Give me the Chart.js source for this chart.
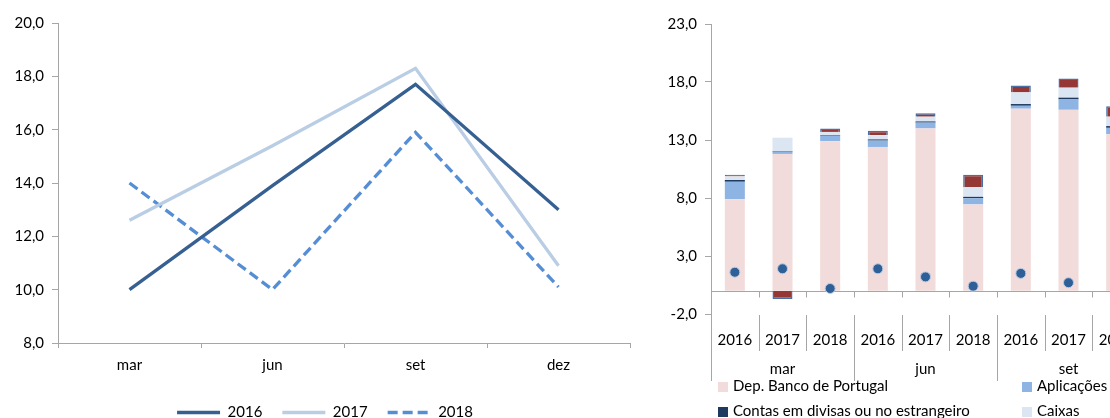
<!DOCTYPE html>
<html>
<head>
<meta charset="utf-8">
<script src="https://cdn.jsdelivr.net/npm/chart.js@4.4.1/dist/chart.umd.min.js"></script>
<style>
html,body{margin:0;padding:0;background:#fff;width:1110px;height:418px;overflow:hidden;position:relative;}
#esq{position:absolute;left:0;top:0;width:652px;height:427px;}
#dir{position:absolute;left:640px;top:0;width:680px;height:418px;}
#legenda{position:absolute;left:718px;top:376px;display:grid;grid-template-columns:304px 304px 304px;grid-auto-rows:25px;font:15px Lato;color:#000;white-space:nowrap;}
#legenda span.cx{display:inline-block;width:10px;height:10px;margin-right:5px;vertical-align:-1px;}
</style>
</head>
<body>
<div id="esq"><canvas id="grafEsq"></canvas></div>
<div id="dir"><canvas id="grafDir"></canvas></div>
<div id="legenda"></div>
<script>
const trimestres=['mar','jun','set','dez'];
const anos=['2016','2017','2018'];

// linhas (esquerda)
const serie2016=[10.0,13.9,17.7,13.0];
const serie2017=[12.6,15.4,18.3,10.9];
const serie2018=[14.0,10.0,15.9,10.1];
const ticksEsq=[8,10,12,14,16,18,20];

// barras empilhadas (direita), mar16, mar17, mar18, jun16 ... dez18
const depBanco=[7.9,11.8,12.9,12.4,14.0,7.45,15.7,15.6,13.5,11.5,9.4,8.5];
const aplicacoes=[1.5,0.2,0.45,0.55,0.5,0.53,0.25,0.9,0.55,0.5,0.5,0.5];
const contasDivisas=[0.15,0.05,0.05,0.1,0.1,0.12,0.15,0.15,0.15,0.1,0.1,0.1];
const caixas=[0.3,1.15,0.3,0.35,0.4,0.85,1.0,0.85,0.8,0.6,0.6,0.7];
const outros=[0.15,-0.7,0.3,0.4,0.3,1.05,0.6,0.8,0.9,0.3,0.3,0.3];
const pontos=[1.6,1.9,0.2,1.9,1.2,0.4,1.5,0.7,1.0,1.0,0.8,0.5];
const ticksDir=[-2,3,8,13,18,23];

const fonte={family:'Lato',size:15};
const cinza='#a6a6a6';
const virgula=v=>Number(v).toFixed(1).replace('.',',');

// a legenda do original fica um pouco à esquerda do centro
const moverLegenda={
    id:'moverLegenda',
    afterLayout(chart){
        const l=chart.legend;
        l.left+=10;l.right+=10;
        l.top+=3;l.bottom+=3;
    }
};

new Chart(document.getElementById('grafEsq'),{
    type:'line',
    data:{
        labels:trimestres,
        datasets:[
            {label:'2016',data:serie2016,borderColor:'#376092',backgroundColor:'#376092',borderWidth:3.3,pointRadius:0},
            {label:'2017',data:serie2017,borderColor:'#b9cde5',backgroundColor:'#b9cde5',borderWidth:3.3,pointRadius:0},
            {label:'2018',data:serie2018,borderColor:'#558ed5',backgroundColor:'#558ed5',borderWidth:3.3,borderDash:[10,5],pointRadius:0}
        ]
    },
    options:{
        responsive:true,
        maintainAspectRatio:false,
        animation:false,
        layout:{padding:{left:0,top:23,right:22,bottom:0}},
        plugins:{
            tooltip:{enabled:false},
            legend:{
                position:'bottom',
                labels:{
                    usePointStyle:true,pointStyle:'line',pointStyleWidth:43,padding:20,font:fonte,color:'#000',
                    // com usePointStyle o tracejado da linha perde-se, repor aqui
                    generateLabels:chart=>Chart.defaults.plugins.legend.labels.generateLabels(chart).map(it=>{
                        const ds=chart.data.datasets[it.datasetIndex];
                        return {...it,lineDash:ds.borderDash||[],lineWidth:ds.borderWidth};
                    })
                }
            }
        },
        scales:{
            x:{
                offset:true,
                grid:{offset:true,drawOnChartArea:false,tickLength:5,color:cinza},
                border:{color:cinza},
                ticks:{font:fonte,color:'#000',padding:8}
            },
            y:{
                min:8,max:20,
                afterFit:s=>{s.width=58;},
                afterBuildTicks:s=>{s.ticks=ticksEsq.map(v=>({value:v}));},
                grid:{drawOnChartArea:false,tickLength:6,color:cinza},
                border:{color:cinza},
                ticks:{font:fonte,color:'#000',padding:8,callback:virgula}
            }
        }
    },
    plugins:[moverLegenda]
});

const rotulos=[];
trimestres.forEach(t=>anos.forEach(a=>rotulos.push([a,t])));

const eixoCategorias={
    id:'eixoCategorias',
    beforeDatasetsDraw(chart){
        const {ctx,chartArea,scales:{x,y}}=chart;
        const y0=Math.round(y.getPixelForValue(0))+0.5;
        const passo=x.getPixelForValue(1)-x.getPixelForValue(0);
        ctx.save();
        ctx.strokeStyle=cinza;
        ctx.lineWidth=1;
        ctx.beginPath();
        ctx.moveTo(chartArea.left,y0);
        ctx.lineTo(chartArea.right,y0);
        for(let i=0;i<=rotulos.length;i++){
            const xp=Math.round(x.getPixelForValue(0)-passo/2+i*passo)+0.5;
            if(i>0){ctx.moveTo(xp,y0);ctx.lineTo(xp,y0+6);}
            ctx.moveTo(xp,chartArea.bottom+1);
            ctx.lineTo(xp,chartArea.bottom+(i%3===0?67:37));
        }
        ctx.stroke();
        ctx.restore();
    }
};

const grafDir=new Chart(document.getElementById('grafDir'),{
    type:'bar',
    data:{
        labels:rotulos,
        datasets:[
            {label:'Dep. Banco de Portugal',data:depBanco,backgroundColor:'#f2dcdb',order:1},
            {label:'Aplicações',data:aplicacoes,backgroundColor:'#8eb4e3',order:1},
            {label:'Contas em divisas ou no estrangeiro',data:contasDivisas,backgroundColor:'#1f3a5f',order:1},
            {label:'Caixas',data:caixas,backgroundColor:'#dce6f2',order:1},
            {label:'Outros',data:outros,backgroundColor:'#953735',borderColor:'#4a6fa5',borderWidth:1.5,order:1},
            {type:'line',label:'Total',data:pontos,stack:'pontos',showLine:false,order:0,
             pointRadius:5,pointBackgroundColor:'#2e5f96',pointBorderColor:'#b9cde5',pointBorderWidth:1,
             backgroundColor:'#2e5f96',borderColor:'#2e5f96'}
        ]
    },
    options:{
        responsive:true,
        maintainAspectRatio:false,
        animation:false,
        datasets:{bar:{barPercentage:0.42,categoryPercentage:1}},
        layout:{padding:{left:0,top:24,right:37,bottom:23}},
        plugins:{tooltip:{enabled:false},legend:{display:false}},
        scales:{
            x:{
                stacked:true,
                grid:{display:false,drawTicks:false},
                border:{display:false},
                ticks:{
                    font:{family:'Lato',size:15,lineHeight:29/15},
                    color:'#000',padding:11.5,maxRotation:0,autoSkip:false,
                    callback:function(v,i){const r=rotulos[i];return [r[0],i%3===1?r[1]:''];}
                }
            },
            y:{
                stacked:true,
                min:-2,max:23,
                afterFit:s=>{s.width=71;},
                afterBuildTicks:s=>{s.ticks=ticksDir.map(v=>({value:v}));},
                grid:{drawOnChartArea:false,tickLength:6,color:cinza},
                border:{color:cinza},
                ticks:{font:fonte,color:'#000',padding:8,callback:virgula}
            }
        }
    },
    plugins:[eixoCategorias]
});

// legenda em grelha (como no original, 3 colunas)
const ordemLegenda=[0,1,4,2,3,5];
const legenda=document.getElementById('legenda');
ordemLegenda.forEach(k=>{
    const ds=grafDir.data.datasets[k];
    const cor=ds.type==='line'?ds.pointBackgroundColor:ds.backgroundColor;
    const d=document.createElement('div');
    d.innerHTML='<span class="cx" style="background:'+cor+'"></span>'+ds.label;
    legenda.appendChild(d);
});
</script>
</body>
</html>
